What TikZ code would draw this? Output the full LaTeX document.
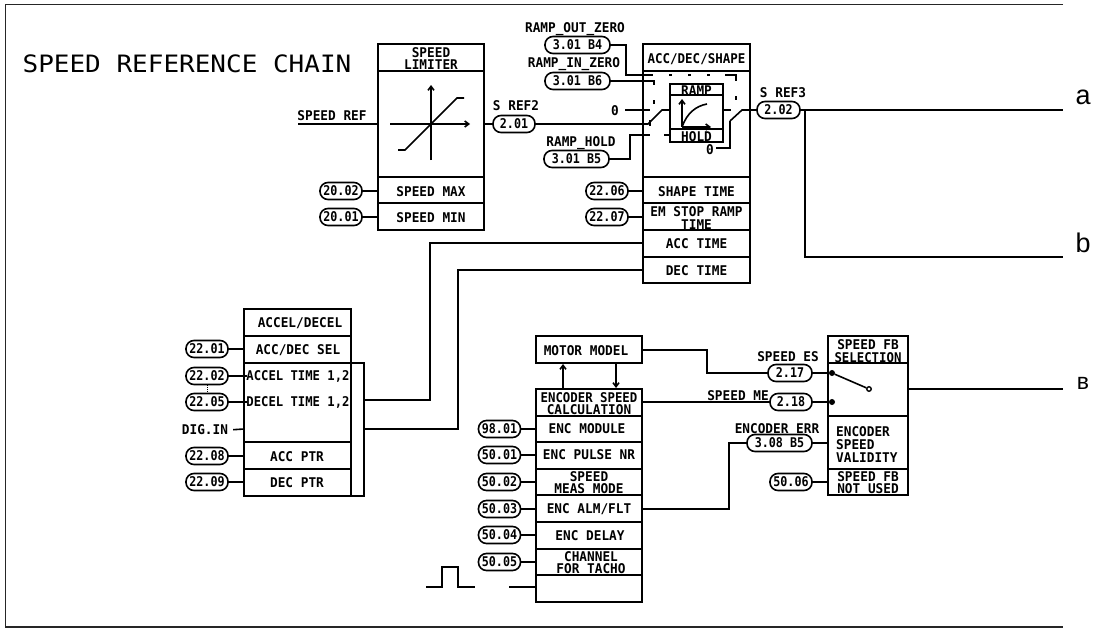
\documentclass[tikz,border=0pt]{standalone}
\usepackage{fontspec}
\setmainfont{Liberation Sans}
\newfontfamily\cadfam{DejaVu Sans Mono}
\usetikzlibrary{arrows.meta}
\newcommand{\lbl}[1]{\scalebox{0.98}[1.03]{\cadfam\bfseries\fontsize{13}{13}\selectfont #1}}
\newcommand{\plbl}[1]{\scalebox{0.9}[1.03]{\cadfam\bfseries\fontsize{13}{13}\selectfont #1}}
\begin{document}
\begin{tikzpicture}[x=1pt,y=-1pt,
  wire/.style={line width=1.6pt,line join=miter},
  frame/.style={line width=1.6pt,draw=black!85},
  cell/.style={line width=1.6pt,draw=black},
  pill/.style={draw,line width=1.6pt,rounded corners=8pt,minimum height=17pt,inner sep=0pt,anchor=center,fill=white},
  txt/.style={inner sep=0pt,anchor=center,black,yshift=-0.7pt},
  dot/.style={circle,draw,line width=1.4pt,fill=black,inner sep=0pt,minimum size=4.5pt},
  arr/.style={-{Straight Barb[length=4pt,width=6pt]}}]
\useasboundingbox (0,0) rectangle (1093,629);
\draw[frame] (1063,4.5) -- (5.5,4.5) -- (5.5,627) -- (1063,627);
\node[txt] (title) at (187,63.5) {\scalebox{1}[0.92]{\cadfam\fontsize{26}{26}\selectfont SPEED REFERENCE CHAIN}};
% Speed limiter
\draw[cell] (378,44) rectangle (484,230);
\foreach \y in {71,177,203} \draw[cell] (378,\y) -- (484,\y);
\node[txt] (tlim1) at (431,52) {\lbl{SPEED}};
\node[txt] (tlim2) at (431,64) {\lbl{LIMITER}};
\node[txt] (tmax) at (431,191) {\lbl{SPEED MAX}};
\node[txt] (tmin) at (431,217) {\lbl{SPEED MIN}};
\draw[wire,arr] (431,160) -- (431,85);
\draw[wire,arr] (390,124) -- (470,124);
\draw[wire] (398,150) -- (405,150) -- (457,98) -- (464,98);
\coordinate (sref) at (298,124);
\node[txt] (tsref) at (332,115) {\lbl{SPEED REF}};
\draw[wire] (sref) -- (378,124);
\node[pill,minimum width=42pt] (p2002) at (341,191) {\plbl{20.02}};
\node[pill,minimum width=42pt] (p2001) at (341,217) {\plbl{20.01}};
\draw[wire] (p2002) -- (378,191);
\draw[wire] (p2001) -- (378,217);
\node[pill,minimum width=42pt] (p201) at (514,124) {\plbl{2.01}};
\node[txt] (tsref2) at (516,105) {\lbl{S REF2}};
\draw[wire] (484,124) -- (p201);
% ACC/DEC/SHAPE
\draw[cell] (643,44) rectangle (750,283);
\foreach \y in {71,177,203,230,257} \draw[cell] (643,\y) -- (750,\y);
\node[txt] (tacc) at (696.5,58) {\scalebox{0.98}[1]{\lbl{ACC/DEC/SHAPE}}};
\node[txt] (tshape) at (696.5,191) {\lbl{SHAPE TIME}};
\node[txt] (tem1) at (696.5,211) {\lbl{EM STOP RAMP}};
\node[txt] (tem2) at (696.5,224) {\lbl{TIME}};
\node[txt] (tacct) at (696.5,243) {\lbl{ACC TIME}};
\node[txt] (tdect) at (696.5,270) {\lbl{DEC TIME}};
\node[pill,minimum width=65pt] (pb4) at (577.5,45) {\plbl{3.01 B4}};
\node[pill,minimum width=65pt] (pb6) at (577.5,81) {\plbl{3.01 B6}};
\node[pill,minimum width=65pt] (pb5) at (576.5,159) {\plbl{3.01 B5}};
\node[txt] (tb4) at (575,28) {\lbl{RAMP\_OUT\_ZERO}};
\node[txt] (tb6) at (574,63) {\lbl{RAMP\_IN\_ZERO}};
\node[txt] (tb5) at (581,142) {\lbl{RAMP\_HOLD}};
\node[pill,minimum width=42pt] (p2206) at (607,191) {\plbl{22.06}};
\node[pill,minimum width=42pt] (p2207) at (607,217) {\plbl{22.07}};
\draw[wire] (p2206) -- (643,191);
\draw[wire] (p2207) -- (643,217);
% ramp block
\draw[cell] (670,84) rectangle (723,142);
\draw[cell] (670,95) -- (723,95);
\draw[cell] (670,129) -- (723,129);
\node[txt] (tramp) at (696.5,90) {\lbl{RAMP}};
\node[txt] (thold) at (696.5,136) {\lbl{HOLD}};
\draw[wire,arr] (682,127) -- (682,99);
\draw[wire,arr] (682,127) -- (711,127);
\draw[wire] (682,127) .. controls (687,113) and (696,106) .. (707,104);
% control wires
\draw[wire] (pb4) -- (626,45) -- (626,75) -- (653,75);
\foreach \x in {669,688,707} \draw[wire] (\x,75) -- ++(3,0);
\draw[wire] (725,75) -- (736,75) -- (736,81);
\draw[wire] (736,96) -- (736,100);
\draw[wire] (pb6) -- (654,81) -- (654,85);
\draw[wire] (654,100) -- (654,104);
% left switch
\node[txt] (tz1) at (615,110) {\lbl{0}};
\draw[wire] (625,110) -- (650,110);
\draw[wire] (p201) -- (648,124) -- (662,110) -- (670,110);
\draw[wire] (650,120) -- (650,126);
\draw[wire] (pb5) -- (630,159) -- (630,135) -- (650,135);
\draw[wire] (664,135) -- (670,135);
% right switch
\draw[wire] (723,110) -- (731,110);
\node[pill,minimum width=43pt] (p202) at (778.5,110) {\plbl{2.02}};
\node[txt] (tsref3) at (783,92) {\lbl{S REF3}};
\draw[wire] (730,121) -- (742,110) -- (p202);
\draw[wire] (730,121) -- (730,148) -- (716,148);
\node[txt] (tz2) at (710,149) {\lbl{0}};
% outputs
\coordinate (outa) at (1063,110);
\coordinate (outb) at (1063,257);
\coordinate (outc) at (1063,389);
\coordinate (jab) at (805,110);
\draw[wire] (p202) -- (outa);
\draw[wire] (jab) -- (805,257) -- (outb);
\node[txt] (la) at (1083,97) {\fontsize{27}{27}\selectfont a};
\node[txt] (lb) at (1083,242) {\fontsize{27}{27}\selectfont b};
\node[txt] (lc) at (1083,383) {\fontsize{23}{23}\selectfont в};
% ACCEL/DECEL
\draw[cell] (244,309) rectangle (351,496);
\foreach \y in {336,363,442,469} \draw[cell] (244,\y) -- (351,\y);
\draw[cell] (351,363) -- (364,363) -- (364,496) -- (351,496);
\node[txt] (tad) at (300,322) {\lbl{ACCEL/DECEL}};
\node[txt] (tads) at (298,349) {\lbl{ACC/DEC SEL}};
\node[txt] (tat) at (298,376) {\scalebox{0.96}[1]{\lbl{ACCEL TIME 1,2}}};
\node[txt] (tdt) at (298,402) {\scalebox{0.96}[1]{\lbl{DECEL TIME 1,2}}};
\node[txt] (tap) at (297,456) {\lbl{ACC PTR}};
\node[txt] (tdp) at (297,482) {\lbl{DEC PTR}};
\node[pill,minimum width=42pt] (p2201) at (207,349) {\plbl{22.01}};
\node[pill,minimum width=42pt] (p2202) at (207,376) {\plbl{22.02}};
\node[pill,minimum width=42pt] (p2205) at (207,402) {\plbl{22.05}};
\node[pill,minimum width=42pt] (p2208) at (207,456) {\plbl{22.08}};
\node[pill,minimum width=42pt] (p2209) at (207,482) {\plbl{22.09}};
\node[txt] (tdig) at (205,429) {\lbl{DIG.IN}};
\draw[wire] (p2201) -- (244,349);
\draw[wire] (p2202) -- (247,376);
\draw[wire] (p2205) -- (247,402);
\draw[wire] (p2208) -- (244,456);
\draw[wire] (p2209) -- (244,482);
\draw[wire] (tdig.east) ++(5,0) -- (244,429);
\draw[line width=1pt,densely dotted] (p2202) -- (p2205);
\draw[wire] (364,400) -- (430,400) -- (430,243) -- (643,243);
\draw[wire] (364,429) -- (458,429) -- (458,270) -- (643,270);
% Motor model + encoder
\draw[cell] (536,336) rectangle (642,363);
\node[txt] (tmm) at (586,350) {\lbl{MOTOR MODEL}};
\draw[cell] (536,389) rectangle (642,602);
\foreach \y in {416,442,469,495,522,549,575} \draw[cell] (536,\y) -- (642,\y);
\draw[wire,arr] (563,389) -- (563,364);
\draw[wire,arr] (616,363) -- (616,388);
\node[txt] (te1) at (589,397) {\scalebox{0.97}[1]{\lbl{ENCODER SPEED}}};
\node[txt] (te2) at (589,409) {\lbl{CALCULATION}};
\node[txt] (tem) at (587,428) {\lbl{ENC MODULE}};
\node[txt] (tep) at (589,454) {\lbl{ENC PULSE NR}};
\node[txt] (ts1) at (589,476) {\lbl{SPEED}};
\node[txt] (ts2) at (589,488) {\lbl{MEAS MODE}};
\node[txt] (tea) at (589,508) {\lbl{ENC ALM/FLT}};
\node[txt] (ted) at (590,535) {\lbl{ENC DELAY}};
\node[txt] (tc1) at (591,556) {\lbl{CHANNEL}};
\node[txt] (tc2) at (591,568) {\lbl{FOR TACHO}};
\node[pill,minimum width=42pt] (p9801) at (499.5,429) {\plbl{98.01}};
\node[pill,minimum width=42pt] (p5001) at (499.5,455) {\plbl{50.01}};
\node[pill,minimum width=42pt] (p5002) at (499.5,482) {\plbl{50.02}};
\node[pill,minimum width=42pt] (p5003) at (499.5,509) {\plbl{50.03}};
\node[pill,minimum width=42pt] (p5004) at (499.5,535) {\plbl{50.04}};
\node[pill,minimum width=42pt] (p5005) at (499.5,562) {\plbl{50.05}};
\foreach \n/\y in {p9801/429,p5001/455,p5002/482,p5003/509,p5004/535,p5005/562} \draw[wire] (\n) -- (536,\y);
\coordinate (pul) at (426,587);
\draw[wire] (pul) -- (442,587) -- (442,567) -- (458,567) -- (458,587) -- (475,587);
\coordinate (pin) at (509,587);
\draw[wire] (pin) -- (536,587);
% Speed FB
\draw[cell] (828,336) rectangle (908,495);
\foreach \y in {363,416,469} \draw[cell] (828,\y) -- (908,\y);
\node[txt] (tf1) at (868,344) {\lbl{SPEED FB}};
\node[txt] (tf2) at (868,357) {\scalebox{0.97}[1]{\lbl{SELECTION}}};
\node[txt,anchor=west] (tv1) at (836,431) {\lbl{ENCODER}};
\node[txt,anchor=west] (tv2) at (836,444) {\lbl{SPEED}};
\node[txt,anchor=west] (tv3) at (836,457) {\lbl{VALIDITY}};
\node[txt] (tn1) at (868,475.5) {\lbl{SPEED FB}};
\node[txt] (tn2) at (868,487.5) {\lbl{NOT USED}};
\node[pill,minimum width=44pt] (p217) at (790,373) {\plbl{2.17}};
\node[pill,minimum width=42pt] (p218) at (791,402) {\plbl{2.18}};
\node[pill,minimum width=65pt] (pb58) at (779.5,443) {\plbl{3.08 B5}};
\node[pill,minimum width=42pt] (p5006) at (791,482) {\plbl{50.06}};
\node[txt] (tes) at (788,356) {\lbl{SPEED ES}};
\node[txt] (tme) at (738,395) {\lbl{SPEED ME}};
\node[txt] (terr) at (777,428) {\lbl{ENCODER ERR}};
\node[dot] (d1) at (832,373) {};
\node[dot] (d2) at (832,402) {};
\node[dot,fill=white] (d3) at (869,389) {};
\draw[wire] (d1) -- (d3);
\draw[wire] (642,350) -- (707,350) -- (707,373) -- (p217);
\draw[wire] (642,402) -- (p218);
\draw[wire] (642,509) -- (729,509) -- (729,443) -- (pb58);
\draw[wire] (p217) -- (d1);
\draw[wire] (p218) -- (d2);
\draw[wire] (pb58) -- (828,443);
\draw[wire] (p5006) -- (828,482);
\draw[wire] (908,389) -- (outc);
\end{tikzpicture}
\end{document}
